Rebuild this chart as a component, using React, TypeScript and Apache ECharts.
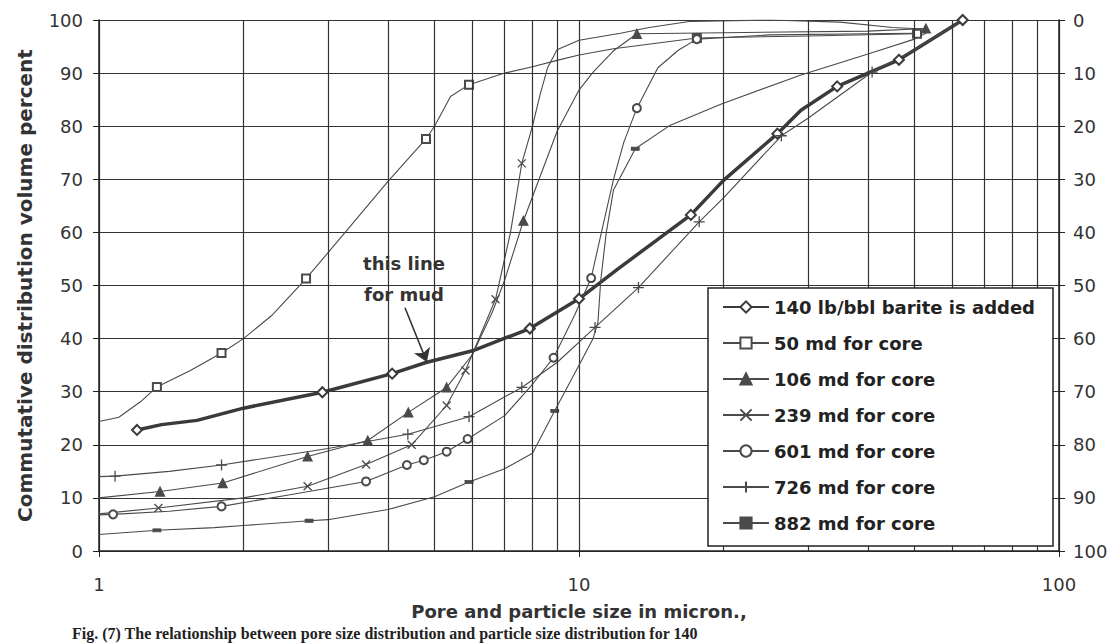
import React, { useEffect, useRef } from 'react';
import * as echarts from 'echarts';

type P = [number, number, number];

// ---- data: [size in micron, cumulative volume %, marker shown (1) or not (0)] ----
const s140: P[] = [
  [1.2, 22.8, 1], [1.35, 23.8, 0], [1.6, 24.6, 0], [2, 26.9, 0], [2.92, 29.9, 1], [4.08, 33.4, 1],
  [4.8, 35.5, 0], [6, 37.7, 0], [7.9, 41.9, 1], [10, 47.5, 1], [12, 53, 0], [14.5, 58.5, 0],
  [17.1, 63.3, 1], [20, 69.8, 0], [25.9, 78.6, 1], [29, 83, 0], [34.5, 87.5, 1], [46.4, 92.5, 1], [63, 100, 1],
];
const s50: P[] = [
  [1, 24.4, 0], [1.1, 25.2, 0], [1.22, 28.1, 0], [1.32, 30.9, 1], [1.55, 34, 0], [1.8, 37.3, 1], [2, 40, 0],
  [2.3, 44.5, 0], [2.7, 51.3, 1], [3.3, 60.6, 0], [4, 69.6, 0], [4.8, 77.6, 1], [5, 80, 0], [5.4, 85.6, 0],
  [5.8, 87.4, 0], [5.9, 87.8, 1], [7, 90, 0], [8, 91.2, 0], [9, 92.4, 0], [10, 93.4, 0], [11.8, 94.6, 0],
  [17.6, 96.6, 1], [30, 97, 0], [50.6, 97.4, 1],
];
const s106: P[] = [
  [1, 10, 0], [1.34, 11.2, 1], [1.81, 12.8, 1], [2.72, 17.8, 1], [3.63, 20.8, 1], [4.41, 26.1, 1],
  [5.3, 30.8, 1], [6, 37, 0], [6.6, 45, 0], [7, 51, 0], [7.66, 62.2, 1], [9, 79, 0], [10, 86.8, 0],
  [10.7, 90.2, 0], [11.8, 94.2, 0], [13.2, 97.4, 1], [20, 97.6, 0], [40, 97.9, 0], [52.8, 98.4, 1],
];
const s239: P[] = [
  [1, 7, 0], [1.33, 8.1, 1], [2, 10, 0], [2.72, 12.2, 1], [3.6, 16.3, 1], [4.48, 20, 1], [5.3, 27.4, 1],
  [5.8, 34, 1], [6.7, 47.4, 1], [7.2, 60, 0], [7.6, 73, 1], [8, 80, 0], [8.3, 86, 0], [8.6, 91, 0],
  [9, 94.4, 0], [10, 96.2, 0], [12.2, 97.5, 0], [14, 98.6, 0], [17.1, 99.75, 0], [25, 100, 0],
  [35, 99.6, 0], [45, 98.6, 0], [52, 98.3, 0],
];
const s601: P[] = [
  [1, 6.8, 0], [1.07, 6.9, 1], [1.4, 7.5, 0], [1.8, 8.4, 1], [2.5, 10.6, 0], [3.6, 13.1, 1], [4.38, 16.2, 1],
  [4.75, 17.1, 1], [5.3, 18.7, 1], [5.86, 21.1, 1], [7, 25.5, 0], [8, 31.4, 0], [8.85, 36.4, 1],
  [9.8, 44.5, 0], [10.6, 51.4, 1], [11.2, 61, 0], [11.8, 70, 0], [12.4, 77, 0], [13.2, 83.4, 1],
  [14.6, 91, 0], [16.1, 94.3, 0], [17.6, 96.4, 1], [25, 97.2, 0], [50, 97.5, 0],
];
const s726: P[] = [
  [1, 14, 0], [1.08, 14.1, 1], [1.4, 15, 0], [1.8, 16.2, 1], [3, 19.3, 0], [4.4, 22, 1], [5.9, 25.3, 1],
  [7.6, 30.8, 1], [9, 35.5, 0], [10.8, 42.1, 1], [13.3, 49.6, 1], [17.8, 62, 1], [20, 66.5, 0],
  [26.4, 78.2, 1], [30, 81.5, 0], [40.8, 90.2, 1], [50, 94.4, 0], [63, 100, 0],
];
const s882: P[] = [
  [1, 3.1, 0], [1.32, 3.9, 1], [1.74, 4.4, 0], [2, 4.8, 0], [2.74, 5.7, 1], [3, 5.9, 0], [4, 7.8, 0],
  [5, 10.2, 0], [5.9, 13, 1], [7, 15.5, 0], [8, 18.4, 0], [8.9, 26.4, 1], [10, 35, 0], [10.7, 40, 0],
  [10.95, 43, 0], [11.1, 51, 0], [11.4, 60, 0], [11.8, 68, 0], [13.1, 75.75, 1], [15.5, 80.2, 0],
  [19.8, 84.2, 0], [28.9, 89.6, 0], [40, 93.6, 0], [50, 96.4, 0], [53, 97.6, 0],
];

const seriesNames = [
  '140 lb/bbl barite is added',
  '50 md for core',
  '106 md for core',
  '239 md for core',
  '601 md for core',
  '726 md for core',
  '882 md for core',
];
const seriesData = [s140, s50, s106, s239, s601, s726, s882];

const xMinorGrid = [2, 3, 4, 5, 6, 7, 8, 9, 20, 30, 40, 50, 60, 70, 80, 90];
const arrowFrom = [4.34, 45.8];
const arrowTo = [4.82, 35.6];

const xTitle = 'Pore and particle size in micron.,';
const yTitle = 'Commutative distribution volume percent';
const noteText = 'this line\nfor mud';
const captionText =
  'Fig. (7) The relationship between pore size distribution and particle size distribution for 140';

// ---- styles ----
const FONT = '"DejaVu Sans", sans-serif';
const styles = [
  { symbol: 'emptyDiamond', size: 10, width: 3.5, color: '#3a3a3a' },
  { symbol: 'emptyRect', size: 8, width: 1.1, color: '#4a4a4a' },
  { symbol: 'triangle', size: 9, width: 1.1, color: '#4a4a4a' },
  { symbol: 'path://M0,0L10,10M10,0L0,10', size: 8, width: 1.1, color: '#4a4a4a' },
  { symbol: 'emptyCircle', size: 8, width: 1.1, color: '#4a4a4a' },
  { symbol: 'path://M5,0L5,10M0,5L10,5', size: 11, width: 1.1, color: '#4a4a4a' },
  { symbol: 'rect', size: [7, 3], width: 1.1, color: '#4a4a4a' },
];

const toData = (arr: P[]) =>
  arr.map(([x, y, m]) => (m ? { value: [x, y] } : { value: [x, y], symbol: 'none' }));

export default function App() {
  const ref = useRef<HTMLDivElement>(null);

  useEffect(() => {
    if (!ref.current) return;
    const chart = echarts.init(ref.current, null, { renderer: 'svg' });

    const series: any[] = seriesNames.map((name, i) => {
      const st = styles[i];
      const s: any = {
        type: 'line',
        name,
        data: toData(seriesData[i]),
        symbol: st.symbol,
        symbolSize: st.size,
        showSymbol: true,
        showAllSymbol: true,
        smooth: false,
        z: 3,
        lineStyle: { color: st.color, width: st.width },
        itemStyle: {
          color: st.color,
          borderColor: st.color,
          borderWidth: st.symbol.startsWith('path') ? 1.3 : i === 0 ? 2 : 1.2,
        },
        emphasis: { disabled: true },
      };
      if (i === 0) {
        s.markLine = {
          silent: true,
          symbol: ['none', 'arrow'],
          symbolSize: 13,
          label: { show: false },
          lineStyle: { color: '#333', width: 1.6, type: 'solid' },
          emphasis: { disabled: true },
          data: [[{ coord: arrowFrom }, { coord: arrowTo }]],
        };
      }
      return s;
    });

    series.unshift({
      type: 'line',
      name: '_grid',
      data: [],
      silent: true,
      z: 1,
      markLine: {
        silent: true,
        symbol: ['none', 'none'],
        label: { show: false },
        lineStyle: { color: '#333', width: 1.2, type: 'solid' },
        emphasis: { disabled: true },
        data: xMinorGrid.map((v) => ({ xAxis: v })),
      },
    });

    const option: any = {
      animation: false,
      backgroundColor: '#fff',
      grid: { left: 99, right: 56, top: 20, bottom: 92, containLabel: false },
      xAxis: {
        type: 'log',
        logBase: 10,
        min: 1,
        max: 100,
        axisLine: { show: true, lineStyle: { color: '#222', width: 1.5 } },
        axisTick: { show: true, length: 6, lineStyle: { color: '#222' } },
        axisLabel: { fontSize: 18, color: '#333', fontFamily: FONT, margin: 24 },
        splitLine: { show: true, lineStyle: { color: '#333', width: 1.2 } },
        name: xTitle,
        nameLocation: 'middle',
        nameGap: 51,
        nameTextStyle: { fontSize: 18, fontWeight: 'bold', color: '#333', fontFamily: FONT },
      },
      yAxis: [
        {
          type: 'value',
          min: 0,
          max: 100,
          interval: 10,
          position: 'left',
          axisLine: { show: true, lineStyle: { color: '#222', width: 1.5 } },
          axisTick: { show: true, length: 6, lineStyle: { color: '#222' } },
          axisLabel: { fontSize: 18, color: '#333', fontFamily: FONT, margin: 16 },
          splitLine: { show: true, lineStyle: { color: '#333', width: 1.2 } },
          name: yTitle,
          nameLocation: 'middle',
          nameRotate: 90,
          nameGap: 64,
          nameTextStyle: { fontSize: 20, fontWeight: 'bold', color: '#333', fontFamily: FONT },
        },
        {
          type: 'value',
          min: 0,
          max: 100,
          interval: 10,
          inverse: true,
          position: 'right',
          axisLine: { show: true, lineStyle: { color: '#222', width: 1.5 } },
          axisTick: { show: true, length: 6, lineStyle: { color: '#222' } },
          axisLabel: { fontSize: 18, color: '#333', fontFamily: FONT, margin: 14 },
          splitLine: { show: false },
        },
      ],
      legend: {
        data: seriesNames,
        orient: 'vertical',
        left: 722,
        top: 297,
        padding: 0,
        itemGap: 16,
        itemWidth: 46,
        itemHeight: 14,
        z: 30,
        selectedMode: false,
        textStyle: {
          fontSize: 18,
          fontWeight: 'bold',
          color: '#222',
          fontFamily: FONT,
          lineHeight: 20,
        },
      },
      graphic: [
        {
          type: 'rect',
          z: 20,
          shape: { x: 708, y: 288, width: 345, height: 258 },
          style: { fill: '#fff', stroke: '#222', lineWidth: 1.5 },
        },
        {
          type: 'text',
          z: 20,
          x: 404,
          y: 248,
          style: {
            text: noteText,
            fontSize: 18,
            fontWeight: 'bold',
            fontFamily: FONT,
            fill: '#333',
            textAlign: 'center',
            textVerticalAlign: 'top',
            lineHeight: 31,
          },
        },
        {
          type: 'text',
          z: 20,
          x: 72,
          y: 624,
          style: {
            text: captionText,
            fontSize: 16,
            fontWeight: 'bold',
            fontFamily: '"Liberation Serif", serif',
            fill: '#222',
            textAlign: 'left',
            textVerticalAlign: 'top',
            lineHeight: 18,
          },
        },
      ],
      series,
    };

    chart.setOption(option);
    return () => chart.dispose();
  }, []);

  return (
    <div
      ref={ref}
      style={{ position: 'fixed', left: 0, top: 0, width: 1115, height: 643, background: '#fff' }}
    />
  );
}
